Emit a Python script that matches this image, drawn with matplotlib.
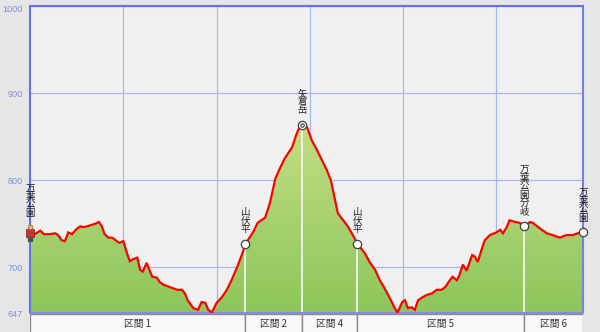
import numpy as np
import matplotlib
matplotlib.use('Agg')
import matplotlib.pyplot as plt
from matplotlib.patches import Polygon, Rectangle
from matplotlib.colors import LinearSegmentedColormap
from matplotlib.transforms import offset_copy, ScaledTranslation

plt.rcParams['font.family'] = ['Noto Sans CJK JP', 'DejaVu Sans']

# Elevation profile (distance km, elevation m)
dist = [0, 0.05, 0.11, 0.15, 0.21, 0.27, 0.30, 0.32, 0.34, 0.375, 0.41, 0.45,
        0.50, 0.54, 0.57, 0.61, 0.64, 0.70, 0.74, 0.77, 0.80, 0.84, 0.88, 0.93,
        0.96, 1.00, 1.04, 1.07, 1.10, 1.15, 1.18, 1.21, 1.25, 1.31, 1.36, 1.39,
        1.43, 1.50, 1.53, 1.58, 1.63, 1.66, 1.69, 1.75, 1.80, 1.84, 1.88, 1.91,
        1.95, 2.00, 2.06, 2.11, 2.16, 2.22, 2.27, 2.31, 2.39, 2.44, 2.52, 2.57,
        2.63, 2.68, 2.73, 2.81, 2.86, 2.89, 2.92, 2.97, 3.02, 3.075, 3.13, 3.18,
        3.225, 3.27, 3.30, 3.40, 3.46, 3.51, 3.59, 3.64, 3.70, 3.75, 3.80, 3.86,
        3.91, 3.94, 3.99, 4.02, 4.05, 4.09, 4.125, 4.16, 4.20, 4.25, 4.31, 4.36,
        4.41, 4.45, 4.50, 4.53, 4.575, 4.60, 4.64, 4.68, 4.74, 4.77, 4.80, 4.84,
        4.875, 4.93, 5.00, 5.04, 5.07, 5.11, 5.14, 5.20, 5.25, 5.30, 5.36, 5.39,
        5.46, 5.54, 5.60, 5.68, 5.75, 5.82, 5.87, 5.93]
elev = [739, 738, 742, 738, 738, 739, 737, 734, 731, 730, 740, 738,
        744, 747, 746, 747, 748, 750, 752, 747, 738, 734, 734, 730,
        728, 730, 716, 707, 709, 711, 697, 695, 705, 689, 688, 683,
        680, 677, 676, 674, 674, 670, 662, 653, 651, 660, 659, 651,
        648, 659, 666, 674, 685, 700, 714, 727, 740, 751, 757, 773,
        802, 814, 825, 838, 854, 861, 864, 861, 846, 835, 823, 812,
        800, 777, 762, 748, 737, 727, 716, 706, 697, 685, 676, 664,
        653, 648, 660, 662, 653, 654, 651, 662, 665, 668, 670, 674,
        674, 677, 685, 689, 685, 690, 703, 696, 714, 712, 706, 720,
        731, 737, 740, 743, 739, 746, 754, 752, 751, 747, 752, 751,
        745, 739, 737, 734, 737, 737, 739, 740]

# Waypoints
wp_names = ['万葉公園', '山伏平', '矢倉岳', '山伏平', '万葉公園分岐', '万葉公園']
wp_dist = [0, 2.31, 2.92, 3.51, 5.30, 5.93]
wp_elev = [739, 727, 864, 727, 747, 740]

sections = ['区間 1', '区間 2', '区間 4', '区間 5', '区間 6']

y_ticks = [647, 700, 800, 900, 1000]
x_max = 5.93

fig = plt.figure(figsize=(6, 3.32), dpi=100, facecolor='#e6e6e6')
ax = fig.add_axes([0.05, 0.0563, 0.922, 0.9247])
ax.set_facecolor('#f0f0f0')
ax.set_xlim(0, x_max)
ax.set_ylim(647, 1000)

# grid
ax.set_xticks([1, 2, 3, 4, 5])
ax.set_yticks(y_ticks)
ax.set_yticklabels([str(t) for t in y_ticks], family='Liberation Sans',
                   fontsize=6.6, color='#7f8fe0', va='center_baseline')
ax.tick_params(axis='x', length=0, labelbottom=False)
ax.tick_params(axis='y', length=0, pad=5)
# keep the top label inside the picture
top_lab = ax.yaxis.get_major_ticks()[-1].label1
top_lab.set_transform(top_lab.get_transform() +
                      ScaledTranslation(0, -2.5 / 100, fig.dpi_scale_trans))
ax.grid(True, color='#a9b6f2', lw=0.9)
ax.set_axisbelow(True)
for s in ax.spines.values():
    s.set_color('#6272ee')
    s.set_linewidth(1.5)
ax.spines['bottom'].set_color('#8a8ad8')
ax.spines['right'].set_color('#7a80e0')

# gradient fill clipped to the profile
verts = list(zip(dist, elev)) + [(dist[-1], 647), (dist[0], 647)]
clip = Polygon(verts, closed=True, facecolor='none', edgecolor='none')
ax.add_patch(clip)
cmap = LinearSegmentedColormap.from_list('g', ['#8cc65a', '#c6df86'])
grad = np.linspace(0, 1, 256).reshape(-1, 1)
im = ax.imshow(grad, extent=[0, x_max, 647, 875], origin='lower',
               cmap=cmap, aspect='auto', zorder=1)
im.set_clip_path(clip)

# waypoint drop lines
for d, e in zip(wp_dist[1:-1], wp_elev[1:-1]):
    ax.plot([d, d], [647, e], color='#f2f2f2', lw=1.3, zorder=2)

ax.plot(dist, elev, color='#ff0000', lw=1.6, zorder=3,
        solid_joinstyle='miter')

# markers
for i, (d, e) in enumerate(zip(wp_dist, wp_elev)):
    if i == 0:
        continue
    ax.plot(d, e, 'o', ms=6, mfc='white', mec='#404040', mew=0.9,
            zorder=5, clip_on=False)
    if i == 2:
        ax.plot(d, e, 'o', ms=2.5, mfc='white', mec='#404040', mew=0.8,
                zorder=6)

# hiker icon at the start
ax.plot(wp_dist[0], wp_elev[0], 's', ms=5.5, color='#c83232', mec='#802020',
        mew=0.5, zorder=6, clip_on=False)
head = offset_copy(ax.transData, fig=fig, x=0, y=4.8, units='points')
ax.plot(wp_dist[0], wp_elev[0], 'o', ms=3.5, color='#e8b070', mec='#805020',
        mew=0.4, zorder=6, clip_on=False, transform=head)
legs = offset_copy(ax.transData, fig=fig, x=0, y=-4, units='points')
ax.plot(wp_dist[0], wp_elev[0], 's', ms=3, color='#505050', zorder=6,
        clip_on=False, transform=legs)

# vertical labels
for i, (name, d, e) in enumerate(zip(wp_names, wp_dist, wp_elev)):
    off = 11 if i == 0 else 7
    ax.annotate('\n'.join(name), xy=(d, e), xytext=(0, off),
                textcoords='offset points', ha='center', va='bottom',
                fontsize=6.8, linespacing=0.92, color='#222222', zorder=7,
                annotation_clip=False)

# section panel
pax = fig.add_axes([0.05, -0.01, 0.922, 0.064])
pax.set_xlim(0, x_max)
pax.set_ylim(0, 1)
pax.axis('off')
bounds = wp_dist
for lab, a, b in zip(sections, bounds[:-1], bounds[1:]):
    pax.add_patch(Rectangle((a, 0), b - a, 1, facecolor='#f9f9f9',
                            edgecolor='#8c8c8c', lw=1.0))
    pax.text((a + b) / 2, 0.55, lab, ha='center', va='center',
             fontsize=7, color='#333333')

fig.savefig('out.png', dpi=100, facecolor=fig.get_facecolor())
